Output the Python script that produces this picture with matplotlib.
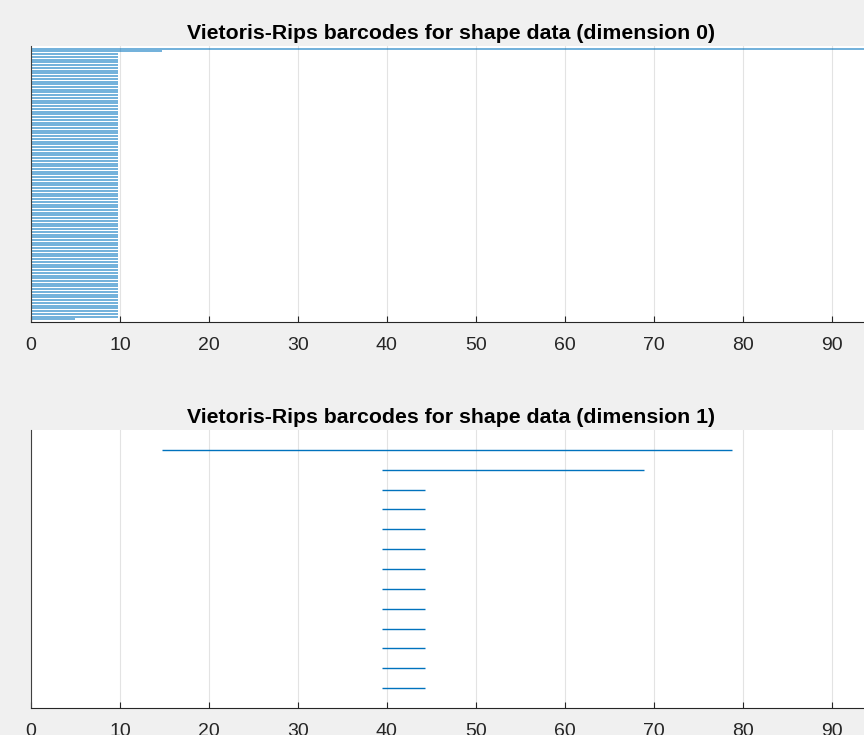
import matplotlib
matplotlib.use("Agg")
import matplotlib.pyplot as plt
import numpy as np

# barcode intervals (birth, death); np.inf marks a bar that never dies
births0 = [0.0] * 100
deaths0 = [np.inf, 14.7,
           9.8, 9.8, 9.8, 9.8, 9.8, 9.8, 9.8, 9.8, 9.8, 9.8,
           9.8, 9.8, 9.8, 9.8, 9.8, 9.8, 9.8, 9.8, 9.8, 9.8,
           9.8, 9.8, 9.8, 9.8, 9.8, 9.8, 9.8, 9.8, 9.8, 9.8,
           9.8, 9.8, 9.8, 9.8, 9.8, 9.8, 9.8, 9.8, 9.8, 9.8,
           9.8, 9.8, 9.8, 9.8, 9.8, 9.8, 9.8, 9.8, 9.8, 9.8,
           9.8, 9.8, 9.8, 9.8, 9.8, 9.8, 9.8, 9.8, 9.8, 9.8,
           9.8, 9.8, 9.8, 9.8, 9.8, 9.8, 9.8, 9.8, 9.8, 9.8,
           9.8, 9.8, 9.8, 9.8, 9.8, 9.8, 9.8, 9.8, 9.8, 9.8,
           9.8, 9.8, 9.8, 9.8, 9.8, 9.8, 9.8, 9.8, 9.8, 9.8,
           9.8, 9.8, 9.8, 9.8, 9.8, 9.8, 9.8,
           4.9]

births1 = [14.7, 39.4, 39.4, 39.4, 39.4, 39.4, 39.4, 39.4, 39.4, 39.4, 39.4, 39.4, 39.4]
deaths1 = [78.8, 68.9, 44.3, 44.3, 44.3, 44.3, 44.3, 44.3, 44.3, 44.3, 44.3, 44.3, 44.3]

titles = ["Vietoris-Rips barcodes for shape data (dimension 0)",
          "Vietoris-Rips barcodes for shape data (dimension 1)"]
xticks = [0, 10, 20, 30, 40, 50, 60, 70, 80, 90]

XMAX = 94.4
BLUE = "#0072BD"

plt.rcParams["font.family"] = ["Liberation Sans", "DejaVu Sans"]

fig = plt.figure(figsize=(8.64, 7.35), dpi=100, facecolor="#f0f0f0")

# axes rectangles in figure fractions (width runs slightly past the right edge)
positions = [[0.0359, 0.5619, 0.972, 0.3755],
             [0.0359, 0.0367, 0.972, 0.3782]]


def plot_barcode(ax, births, deaths, title, lw=1.0, alpha=1.0):
    """draw one barcode panel, top bar first"""
    n = len(births)
    for i, (b, d) in enumerate(zip(births, deaths)):
        y = n - i
        end = min(d, XMAX)
        ax.plot([b, end], [y, y], color=BLUE, lw=lw, alpha=alpha,
                solid_capstyle="butt")
    ax.set_xlim(0, XMAX)
    ax.set_ylim(0, n + 1)
    ax.set_yticks([])
    ax.set_xticks(xticks)
    ax.set_xticklabels([str(t) for t in xticks])
    ax.grid(axis="x", color="#e3e3e3", lw=0.8)
    ax.set_axisbelow(True)
    ax.tick_params(axis="x", direction="in", length=4, width=0.8,
                   color="#262626", labelcolor="#262626", labelsize=14, pad=11)
    for side in ["top", "right"]:
        ax.spines[side].set_visible(False)
    ax.spines["left"].set_color("#404040")
    ax.spines["bottom"].set_color("#262626")
    ax.spines["left"].set_linewidth(0.8)
    ax.spines["bottom"].set_linewidth(0.8)
    ax.set_title(title, fontsize=15.3, fontweight="bold", pad=5)


ax0 = fig.add_axes(positions[0])
plot_barcode(ax0, births0, deaths0, titles[0], lw=1.3, alpha=0.6)

ax1 = fig.add_axes(positions[1])
plot_barcode(ax1, births1, deaths1, titles[1])

fig.savefig("out.png", dpi=100, facecolor=fig.get_facecolor())
